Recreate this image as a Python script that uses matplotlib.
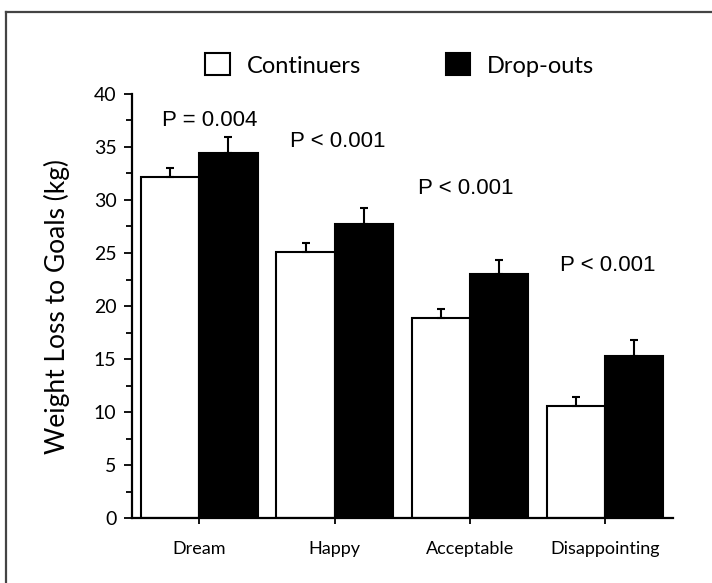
import numpy as np
import matplotlib.pyplot as plt
from matplotlib.lines import Line2D
from matplotlib.ticker import MultipleLocator

categories = ['Dream', 'Happy', 'Acceptable', 'Disappointing']
continuers = [32.2, 25.1, 18.9, 10.6]
continuers_err = [0.8, 0.8, 0.8, 0.8]
dropouts = [34.4, 27.7, 23.0, 15.3]
dropouts_err = [1.5, 1.5, 1.3, 1.5]
p_labels = ['P = 0.004', 'P < 0.001', 'P < 0.001', 'P < 0.001']
p_y = [36.5, 34.5, 30.1, 22.8]
p_x = [0.08, 1.02, 1.97, 3.02]

ui = 'Lato'
fig = plt.figure(figsize=(7.12, 5.83), dpi=100)
ax = fig.add_axes([0.185, 0.111, 0.76, 0.728])

x = np.arange(len(categories))
w = 0.43
ax.bar(x - w / 2, continuers, w, color='white', edgecolor='black', linewidth=1.5,
       yerr=[[0] * 4, continuers_err], error_kw=dict(ecolor='black', elinewidth=1.5, capsize=3, capthick=1.5),
       label='Continuers')
ax.bar(x + w / 2, dropouts, w, color='black', edgecolor='black', linewidth=1.5,
       yerr=[[0] * 4, dropouts_err], error_kw=dict(ecolor='black', elinewidth=1.5, capsize=3, capthick=1.5),
       label='Drop-outs')

for px, py, t in zip(p_x, p_y, p_labels):
    ax.text(px, py, t, ha='center', va='bottom', fontsize=16, family='Liberation Sans')

ax.set_xlim(-0.5, 3.5)
ax.set_ylim(0, 40)
ax.yaxis.set_major_locator(MultipleLocator(5))
ax.yaxis.set_minor_locator(MultipleLocator(2.5))
ax.set_xticks(x)
ax.set_xticklabels(categories, fontsize=13, family=ui)
for lab in ax.get_yticklabels():
    lab.set_family(ui)
    lab.set_fontsize(14)
ax.tick_params(axis='y', which='major', length=6, width=1.3, pad=5)
ax.tick_params(axis='y', which='minor', length=4, width=1.3)
ax.tick_params(axis='x', length=4, width=1.3, pad=12)
ax.spines['top'].set_visible(False)
ax.spines['right'].set_visible(False)
ax.spines['left'].set_linewidth(1.6)
ax.spines['bottom'].set_linewidth(1.6)
ax.spines['left'].set_bounds(0, 40)
ax.set_ylabel('Weight Loss to Goals (kg)', fontsize=19, family=ui, labelpad=17)

ax.legend(loc='center', bbox_to_anchor=(0.495, 1.068), ncol=2, frameon=False,
          prop={'family': ui, 'size': 17}, handlelength=1.05, handleheight=1.05,
          columnspacing=3.6, handletextpad=0.7)

# partial frame around the picture
fig.add_artist(Line2D([0.008, 1.0], [0.979, 0.979], color='#444444', lw=1.6))
fig.add_artist(Line2D([0.008, 0.008], [0.0, 0.979], color='#444444', lw=1.6))

fig.savefig('out.png', dpi=100)
